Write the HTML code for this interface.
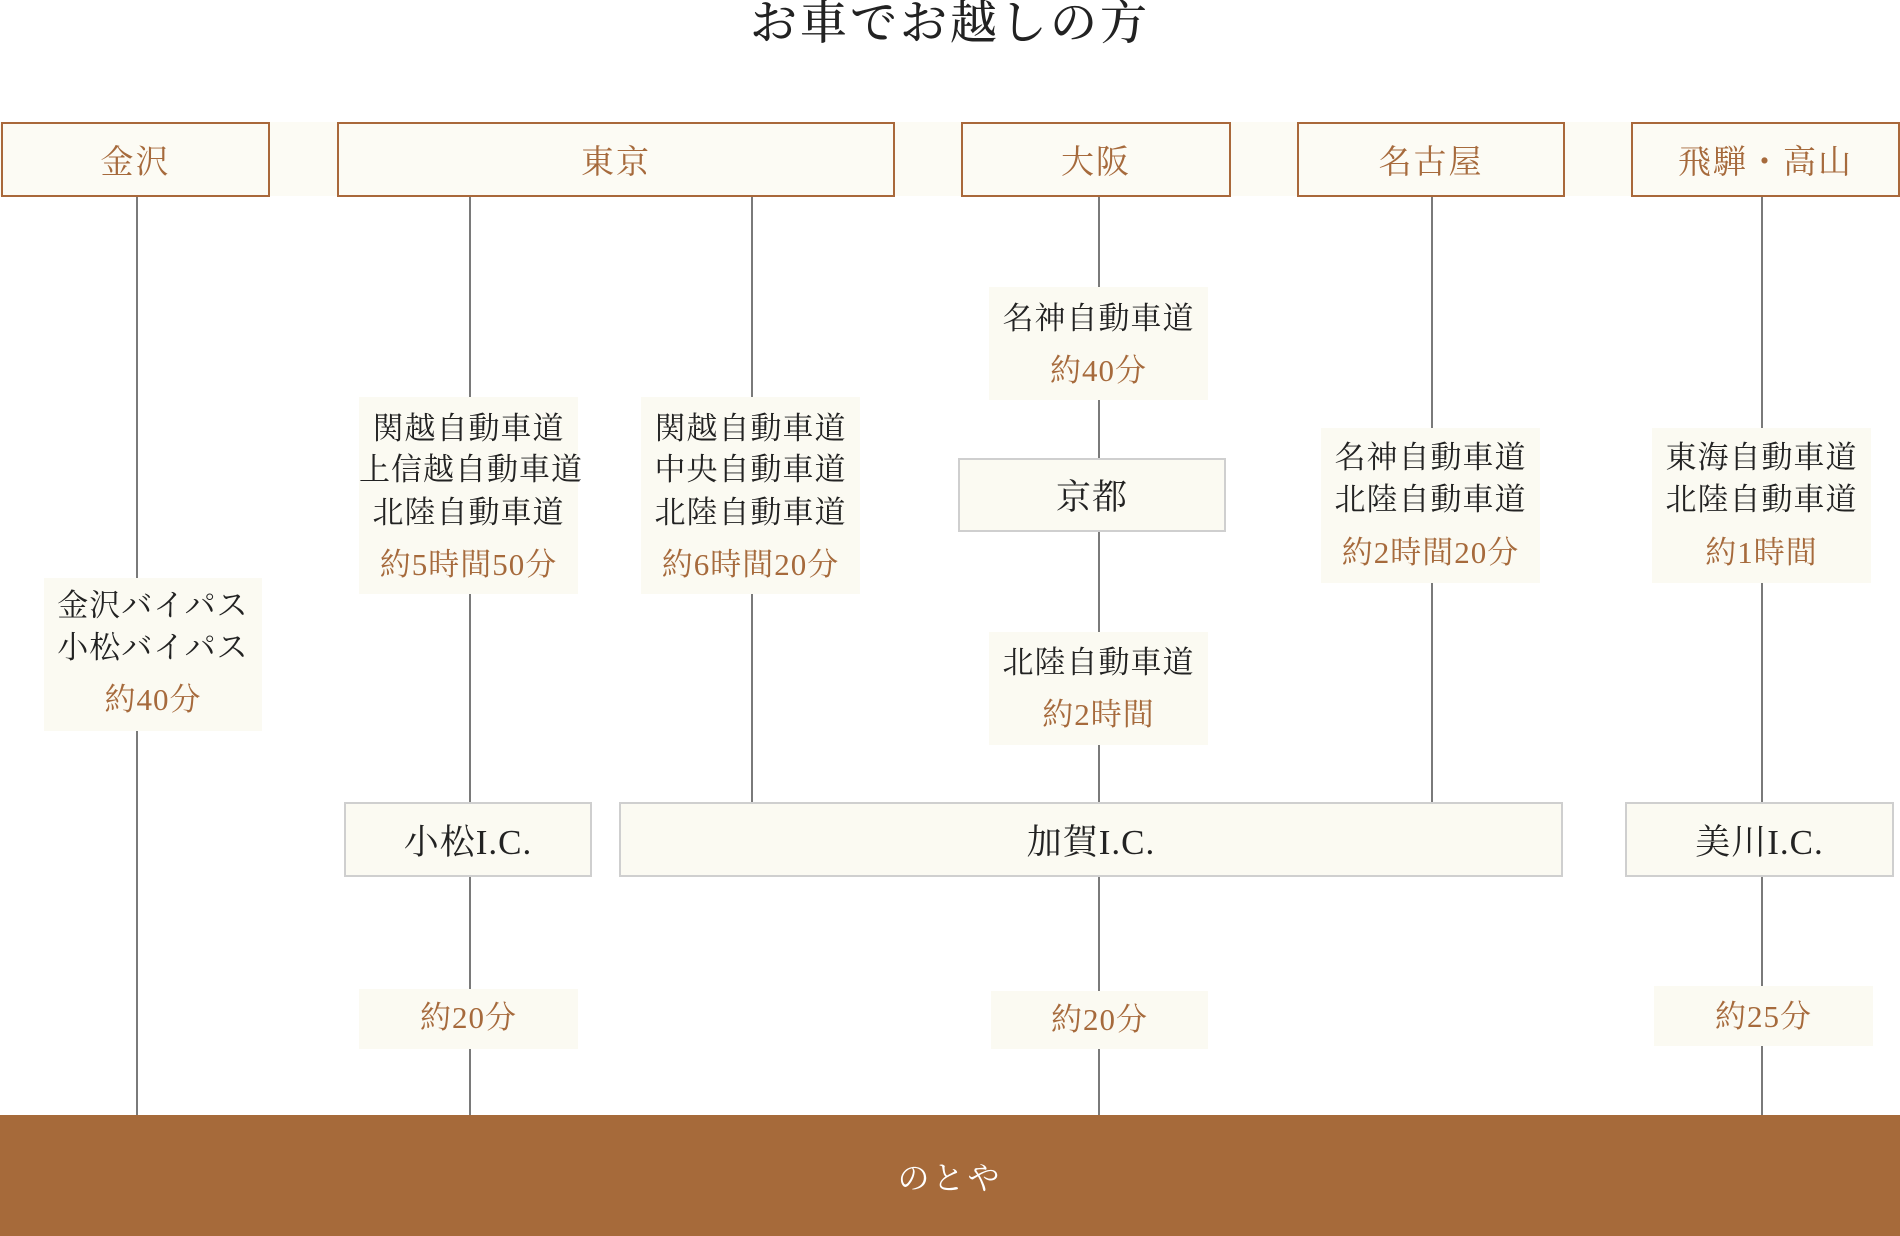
<!DOCTYPE html>
<html><head><meta charset="utf-8"><style>
body{margin:0;width:1900px;height:1236px;background:#fff;position:relative;overflow:hidden;font-family:"Liberation Serif","Noto Serif CJK SC",serif;}
.a{position:absolute;box-sizing:border-box}
.hd{background:#fcfbf4;border:2px solid #a9683a;color:#a66a3c;font-size:33px;display:flex;align-items:center;justify-content:center;letter-spacing:2px}
.ln{position:absolute;width:2px;background:#7a7a7a}
.bx{background:#fbfaf2}
.ic{background:#fbfaf2;border:2px solid #cfcfcf;color:#222;font-size:35px;display:flex;align-items:center;justify-content:center;letter-spacing:1px}
.t{position:absolute;text-align:center;font-size:31px;line-height:40px;height:40px;color:#222;letter-spacing:1px;white-space:nowrap}
.o{color:#a66a3c}
</style></head><body>
<div class="a" style="left:0;top:-2px;width:1900px;text-align:center;font-size:47px;line-height:52px;color:#222;letter-spacing:3px;font-weight:500">お車でお越しの方</div>
<div class="a" style="left:0;top:122px;width:1900px;height:74px;background:#fcfbf4"></div>
<div class="a hd" style="left:1px;top:122px;width:269px;height:75px">金沢</div>
<div class="a hd" style="left:337px;top:122px;width:558px;height:75px">東京</div>
<div class="a hd" style="left:961px;top:122px;width:270px;height:75px">大阪</div>
<div class="a hd" style="left:1297px;top:122px;width:268px;height:75px">名古屋</div>
<div class="a hd" style="left:1631px;top:122px;width:269px;height:75px">飛騨・高山</div>

<div class="ln" style="left:136px;top:197px;height:918px"></div>
<div class="ln" style="left:469px;top:197px;height:918px"></div>
<div class="ln" style="left:751px;top:197px;height:606px"></div>
<div class="ln" style="left:1098px;top:197px;height:918px"></div>
<div class="ln" style="left:1431px;top:197px;height:606px"></div>
<div class="ln" style="left:1761px;top:197px;height:918px"></div>

<div class="a bx" style="left:44px;top:578px;width:218px;height:153px"></div>
<div class="t" style="left:44px;width:218px;top:586px">金沢バイパス</div>
<div class="t" style="left:44px;width:218px;top:628px">小松バイパス</div>
<div class="t o" style="left:44px;width:218px;top:680px">約40分</div>

<div class="a bx" style="left:359px;top:397px;width:219px;height:197px"></div>
<div class="t" style="left:359px;width:219px;top:409px">関越自動車道</div>
<div class="t" style="left:359px;width:219px;top:450px">上信越自動車道</div>
<div class="t" style="left:359px;width:219px;top:493px">北陸自動車道</div>
<div class="t o" style="left:359px;width:219px;top:545px">約5時間50分</div>

<div class="a bx" style="left:641px;top:397px;width:219px;height:197px"></div>
<div class="t" style="left:641px;width:219px;top:409px">関越自動車道</div>
<div class="t" style="left:641px;width:219px;top:450px">中央自動車道</div>
<div class="t" style="left:641px;width:219px;top:493px">北陸自動車道</div>
<div class="t o" style="left:641px;width:219px;top:545px">約6時間20分</div>

<div class="a bx" style="left:989px;top:287px;width:219px;height:113px"></div>
<div class="t" style="left:989px;width:219px;top:299px">名神自動車道</div>
<div class="t o" style="left:989px;width:219px;top:351px">約40分</div>

<div class="a ic" style="left:958px;top:458px;width:268px;height:74px">京都</div>

<div class="a bx" style="left:989px;top:632px;width:219px;height:113px"></div>
<div class="t" style="left:989px;width:219px;top:643px">北陸自動車道</div>
<div class="t o" style="left:989px;width:219px;top:695px">約2時間</div>

<div class="a bx" style="left:1321px;top:428px;width:219px;height:155px"></div>
<div class="t" style="left:1321px;width:219px;top:438px">名神自動車道</div>
<div class="t" style="left:1321px;width:219px;top:480px">北陸自動車道</div>
<div class="t o" style="left:1321px;width:219px;top:533px">約2時間20分</div>

<div class="a bx" style="left:1652px;top:428px;width:219px;height:155px"></div>
<div class="t" style="left:1652px;width:219px;top:438px">東海自動車道</div>
<div class="t" style="left:1652px;width:219px;top:480px">北陸自動車道</div>
<div class="t o" style="left:1652px;width:219px;top:533px">約1時間</div>

<div class="a ic" style="left:344px;top:802px;width:248px;height:75px">小松I.C.</div>
<div class="a ic" style="left:619px;top:802px;width:944px;height:75px">加賀I.C.</div>
<div class="a ic" style="left:1625px;top:802px;width:269px;height:75px">美川I.C.</div>

<div class="a bx" style="left:359px;top:989px;width:219px;height:60px"></div>
<div class="t o" style="left:359px;width:219px;top:998px">約20分</div>
<div class="a bx" style="left:991px;top:991px;width:217px;height:58px"></div>
<div class="t o" style="left:991px;width:217px;top:1000px">約20分</div>
<div class="a bx" style="left:1654px;top:986px;width:219px;height:60px"></div>
<div class="t o" style="left:1654px;width:219px;top:997px">約25分</div>

<div class="a" style="left:0;top:1115px;width:1900px;height:121px;background:#a66a3a;color:#fff;font-size:32px;display:flex;align-items:center;justify-content:center;letter-spacing:3px">のとや</div>
</body></html>
